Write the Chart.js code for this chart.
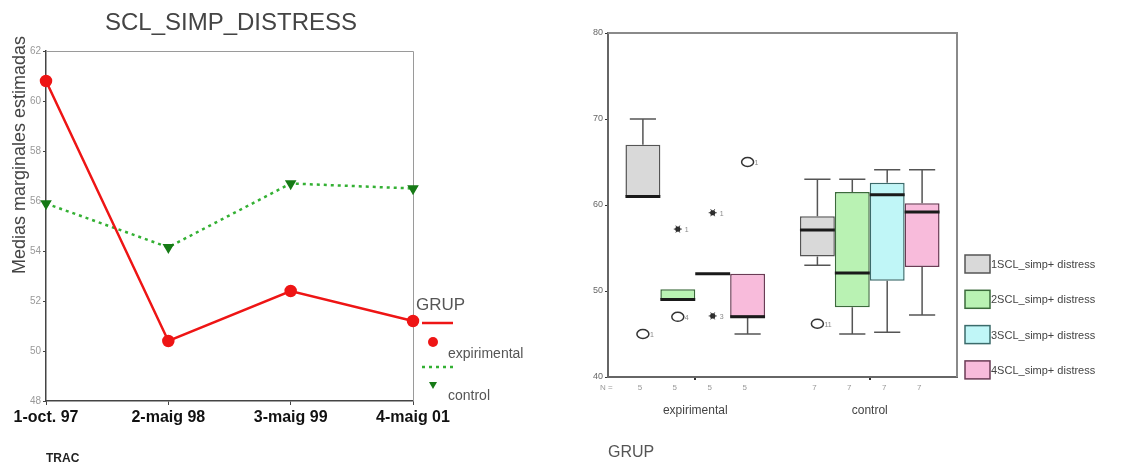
<!DOCTYPE html>
<html>
<head>
<meta charset="utf-8">
<script src="https://cdn.jsdelivr.net/npm/chart.js@4.4.1/dist/chart.umd.min.js"></script>
<style>
  body { margin: 0; background: #fff; }
  #wrap { position: relative; width: 1123px; height: 467px; overflow: hidden; }
  #lineChart { position: absolute; left: 0; top: 0; }
  #boxChart { position: absolute; left: 540px; top: 0; }
</style>
</head>
<body>
<div id="wrap">
  <canvas id="lineChart" width="540" height="467"></canvas>
  <canvas id="boxChart" width="583" height="467"></canvas>
</div>
<script>
// left chart: estimated marginal means
const tracLabels = ["1-oct. 97", "2-maig 98", "3-maig 99", "4-maig 01"];
const expMeans = [60.8, 50.4, 52.4, 51.2];
const ctrlMeans = [55.9, 54.15, 56.7, 56.5];
const meansMin = 48;
const meansMax = 62;

// right chart: box plots, [time][grup]
const grupLabels = ["expirimental", "control"];
const grupN = [5, 7];
const timeNames = ["1SCL_simp+ distress", "2SCL_simp+ distress", "3SCL_simp+ distress", "4SCL_simp+ distress"];
const whiskLow = [[61, 53], [49, 45], [52, 45.2], [45, 47.2]];
const q1 = [[61, 54], [49, 48.1], [52, 51.2], [47, 52.8]];
const median = [[61, 57.1], [49, 52.1], [52, 61.2], [47, 59.2]];
const q3 = [[67, 58.7], [50.2, 61.5], [52, 62.6], [52, 60.2]];
const whiskHigh = [[70, 63], [50.2, 63], [52, 64.1], [52, 64.1]];
// outliers: time, grup, value, mark ("o" = outlier, "*" = extreme), case no.
const outTime = [0, 0, 1, 1, 2, 2, 3];
const outGrup = [0, 1, 0, 0, 0, 0, 0];
const outValue = [45, 46.2, 57.2, 47, 59.1, 47.1, 65];
const outMark = ["o", "o", "*", "o", "*", "*", "o"];
const outCase = ["1", "11", "1", "4", "1", "3", "1"];

const FONT = '"Liberation Sans", Arial, sans-serif';
Chart.defaults.font.family = FONT;

const boxFill = ["#d9d9d9", "#b9f2b3", "#c0f6f7", "#f8bbdb"];
const boxLine = ["#555", "#3b6b3b", "#3b6b6b", "#6b3b55"];

// ---------- left chart ----------
const leftDeco = {
  id: "leftDeco",
  beforeDatasetsDraw(chart) {
    const { ctx, chartArea: a } = chart;
    ctx.save();
    ctx.strokeStyle = "#9a9a9a";
    ctx.lineWidth = 1;
    ctx.beginPath();
    ctx.moveTo(a.left, a.top + 0.5);
    ctx.lineTo(a.right + 0.5, a.top + 0.5);
    ctx.lineTo(a.right + 0.5, a.bottom);
    ctx.stroke();
    ctx.restore();
  },
  afterDraw(chart) {
    const ctx = chart.ctx;
    const ds = chart.data.datasets;
    ctx.save();
    ctx.fillStyle = "#444";
    ctx.textAlign = "center";
    ctx.textBaseline = "middle";
    ctx.font = "24px " + FONT;
    ctx.fillText("SCL_SIMP_DISTRESS", 231, 23);

    ctx.save();
    ctx.translate(20, 155);
    ctx.rotate(-Math.PI / 2);
    ctx.fillStyle = "#444";
    ctx.font = "18px " + FONT;
    ctx.fillText("Medias marginales estimadas", 0, 0);
    ctx.restore();

    // legend
    ctx.textAlign = "left";
    ctx.fillStyle = "#555";
    ctx.font = "17px " + FONT;
    ctx.fillText("GRUP", 416, 305);

    ctx.strokeStyle = ds[0].borderColor;
    ctx.lineWidth = ds[0].borderWidth;
    ctx.beginPath();
    ctx.moveTo(422, 323);
    ctx.lineTo(453, 323);
    ctx.stroke();
    ctx.fillStyle = ds[0].pointBackgroundColor;
    ctx.beginPath();
    ctx.arc(433, 342, 5, 0, Math.PI * 2);
    ctx.fill();

    ctx.strokeStyle = ds[1].borderColor;
    ctx.lineWidth = ds[1].borderWidth;
    ctx.setLineDash(ds[1].borderDash);
    ctx.beginPath();
    ctx.moveTo(422, 367);
    ctx.lineTo(453, 367);
    ctx.stroke();
    ctx.setLineDash([]);
    ctx.fillStyle = ds[1].pointBackgroundColor;
    ctx.beginPath();
    ctx.moveTo(429, 382);
    ctx.lineTo(437, 382);
    ctx.lineTo(433, 389);
    ctx.closePath();
    ctx.fill();

    ctx.fillStyle = "#555";
    ctx.font = "14px " + FONT;
    ctx.fillText("expirimental", 448, 354);
    ctx.fillText("control", 448, 396);
    ctx.restore();
  }
};

new Chart(document.getElementById("lineChart"), {
  type: "line",
  data: {
    labels: tracLabels,
    datasets: [
      {
        label: "expirimental",
        data: expMeans,
        borderColor: "#ee1515",
        borderWidth: 2.5,
        pointBackgroundColor: "#ee1515",
        pointBorderColor: "#ee1515",
        pointRadius: 5,
        tension: 0
      },
      {
        label: "control",
        data: ctrlMeans,
        borderColor: "#33b033",
        borderWidth: 2.5,
        borderDash: [3, 4],
        pointStyle: "triangle",
        pointRotation: 180,
        pointBackgroundColor: "#167a16",
        pointBorderColor: "#167a16",
        pointRadius: 4.2,
        tension: 0
      }
    ]
  },
  options: {
    responsive: false,
    animation: false,
    devicePixelRatio: 1,
    layout: { padding: { left: 0, right: 127, top: 51, bottom: 0 } },
    plugins: { legend: { display: false }, tooltip: { enabled: false } },
    scales: {
      x: {
        offset: false,
        afterFit: (s) => { s.height = 66; },
        grid: { drawOnChartArea: false, tickLength: 4, color: "#444" },
        border: { color: "#444", width: 1.5 },
        ticks: {
          font: { size: 16, weight: "bold" },
          color: "#111",
          padding: 3,
          maxRotation: 0,
          autoSkip: false
        },
        title: {
          display: true,
          text: "TRAC",
          align: "start",
          font: { size: 12, weight: "bold" },
          color: "#222",
          padding: { top: 0, bottom: 1 }
        }
      },
      y: {
        min: meansMin,
        max: meansMax,
        afterFit: (s) => { s.width = 46; },
        grid: { drawOnChartArea: false, tickLength: 3, color: "#444" },
        border: { color: "#444", width: 1.5 },
        ticks: { stepSize: 2, font: { size: 10 }, color: "#999", padding: 2 }
      }
    }
  },
  plugins: [leftDeco]
});

// ---------- right chart ----------
function drawStar(ctx, x, y) {
  ctx.beginPath();
  ctx.arc(x, y, 2.6, 0, Math.PI * 2);
  ctx.fill();
  ctx.beginPath();
  for (let k = 0; k < 3; k++) {
    const ang = (k * Math.PI) / 3;
    ctx.moveTo(x - 4 * Math.cos(ang), y - 4 * Math.sin(ang));
    ctx.lineTo(x + 4 * Math.cos(ang), y + 4 * Math.sin(ang));
  }
  ctx.stroke();
}

const boxDeco = {
  id: "boxDeco",
  beforeDatasetsDraw(chart) {
    const { ctx, chartArea: a } = chart;
    ctx.save();
    ctx.strokeStyle = "#8a8a8a";
    ctx.lineWidth = 2;
    ctx.beginPath();
    ctx.moveTo(a.left, a.top);
    ctx.lineTo(a.right, a.top);
    ctx.lineTo(a.right, a.bottom);
    ctx.stroke();
    ctx.restore();
  },
  afterDatasetsDraw(chart) {
    const ctx = chart.ctx;
    const ys = chart.scales.y;
    ctx.save();
    chart.data.datasets.forEach((ds, t) => {
      const meta = chart.getDatasetMeta(t);
      meta.data.forEach((bar, g) => {
        const x = bar.x;
        const w = bar.width;
        const cap = w * 0.75;
        ctx.strokeStyle = "#555";
        ctx.lineWidth = 1.5;
        ctx.beginPath();
        if (whiskHigh[t][g] > q3[t][g]) {
          ctx.moveTo(x, ys.getPixelForValue(q3[t][g]));
          ctx.lineTo(x, ys.getPixelForValue(whiskHigh[t][g]));
          ctx.moveTo(x - cap / 2, ys.getPixelForValue(whiskHigh[t][g]));
          ctx.lineTo(x + cap / 2, ys.getPixelForValue(whiskHigh[t][g]));
        }
        if (whiskLow[t][g] < q1[t][g]) {
          ctx.moveTo(x, ys.getPixelForValue(q1[t][g]));
          ctx.lineTo(x, ys.getPixelForValue(whiskLow[t][g]));
          ctx.moveTo(x - cap / 2, ys.getPixelForValue(whiskLow[t][g]));
          ctx.lineTo(x + cap / 2, ys.getPixelForValue(whiskLow[t][g]));
        }
        ctx.stroke();
        ctx.strokeStyle = "#1a1a1a";
        ctx.lineWidth = 3;
        ctx.beginPath();
        ctx.moveTo(x - w / 2, ys.getPixelForValue(median[t][g]));
        ctx.lineTo(x + w / 2, ys.getPixelForValue(median[t][g]));
        ctx.stroke();
      });
    });

    // outliers
    outValue.forEach((v, k) => {
      const bar = chart.getDatasetMeta(outTime[k]).data[outGrup[k]];
      const x = bar.x;
      const y = ys.getPixelForValue(v);
      ctx.strokeStyle = "#333";
      ctx.fillStyle = "#222";
      ctx.lineWidth = 1.5;
      if (outMark[k] === "o") {
        ctx.beginPath();
        ctx.ellipse(x, y, 6, 4.5, 0, 0, Math.PI * 2);
        ctx.stroke();
      } else {
        ctx.lineWidth = 1;
        drawStar(ctx, x, y);
      }
      ctx.fillStyle = "#888";
      ctx.font = "7px " + FONT;
      ctx.textAlign = "left";
      ctx.textBaseline = "middle";
      ctx.fillText(outCase[k], x + 7, y + 1);
    });

    // N = row
    ctx.fillStyle = "#999";
    ctx.font = "8px " + FONT;
    ctx.textAlign = "left";
    ctx.textBaseline = "middle";
    ctx.fillText("N =", chart.chartArea.left - 8, 388);
    ctx.textAlign = "center";
    chart.data.datasets.forEach((ds, t) => {
      chart.getDatasetMeta(t).data.forEach((bar, g) => {
        ctx.fillText(String(grupN[g]), bar.x - 3, 388);
      });
    });

    // legend
    ctx.font = "11px " + FONT;
    ctx.textAlign = "left";
    timeNames.forEach((name, t) => {
      const cy = 264 + t * 35.3;
      ctx.fillStyle = boxFill[t];
      ctx.fillRect(425, cy - 9, 25, 18);
      ctx.strokeStyle = boxLine[t];
      ctx.lineWidth = 1.5;
      ctx.strokeRect(425, cy - 9, 25, 18);
      ctx.fillStyle = "#444";
      ctx.fillText(name, 451, cy + 1);
    });
    ctx.restore();
  }
};

new Chart(document.getElementById("boxChart"), {
  type: "bar",
  data: {
    labels: grupLabels,
    datasets: timeNames.map((name, t) => ({
      label: name,
      data: q1[t].map((v, g) => [v, q3[t][g]]),
      backgroundColor: boxFill[t],
      borderColor: boxLine[t],
      borderWidth: 1.5,
      borderSkipped: false,
      categoryPercentage: 0.8,
      barPercentage: 1.0
    }))
  },
  options: {
    responsive: false,
    animation: false,
    devicePixelRatio: 1,
    layout: { padding: { left: 0, right: 166, top: 33, bottom: 0 } },
    plugins: { legend: { display: false }, tooltip: { enabled: false } },
    scales: {
      x: {
        afterFit: (s) => { s.height = 90; },
        grid: { drawOnChartArea: false, offset: false, tickLength: 3, color: "#333", lineWidth: 2 },
        border: { color: "#666", width: 2 },
        ticks: { font: { size: 12 }, color: "#444", padding: 23, maxRotation: 0 },
        title: {
          display: true,
          text: "GRUP",
          align: "start",
          font: { size: 16 },
          color: "#555",
          padding: { top: 0, bottom: 5 }
        }
      },
      y: {
        min: 40,
        max: 80,
        afterFit: (s) => { s.width = 68; },
        grid: { drawOnChartArea: false, tickLength: 3, color: "#333" },
        border: { color: "#666", width: 2 },
        ticks: { stepSize: 10, font: { size: 9 }, color: "#666", padding: 2 }
      }
    }
  },
  plugins: [boxDeco]
});
</script>
</body>
</html>
